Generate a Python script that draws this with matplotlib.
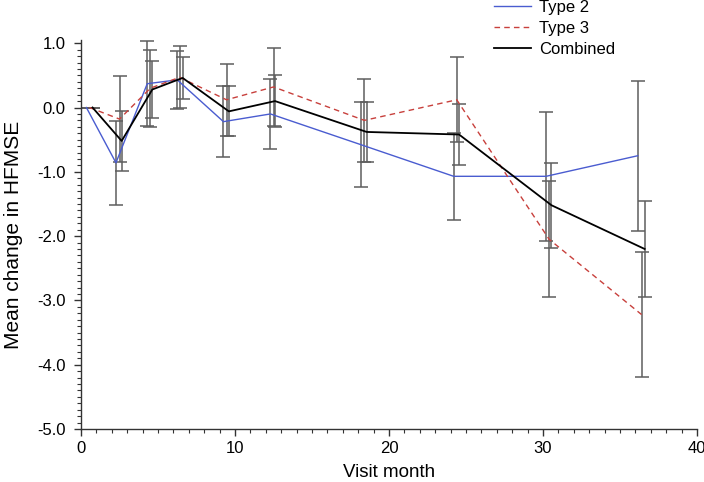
import matplotlib
matplotlib.use("Agg")
import matplotlib.pyplot as plt
from matplotlib.ticker import MultipleLocator

plt.rcParams['font.family'] = ['Liberation Sans', 'DejaVu Sans']

# Type 2
x_t2 = [0.35, 2.27, 4.3, 6.25, 9.25, 12.3, 18.2, 24.2, 30.2, 36.15]
y_t2 = [0.0, -0.86, 0.37, 0.43, -0.22, -0.10, -0.58, -1.07, -1.07, -0.75]
e_t2 = [0.0, 0.65, 0.66, 0.45, 0.55, 0.55, 0.66, 0.68, 1.00, 1.17]

# Type 3
x_t3 = [0.55, 2.5, 4.5, 6.4, 9.45, 12.5, 18.4, 24.4, 30.4, 36.4]
y_t3 = [0.0, -0.18, 0.30, 0.47, 0.12, 0.32, -0.20, 0.12, -2.05, -3.22]
e_t3 = [0.0, 0.67, 0.60, 0.48, 0.56, 0.60, 0.65, 0.66, 0.90, 0.97]

# Combined
x_cb = [0.75, 2.64, 4.63, 6.6, 9.6, 12.6, 18.55, 24.55, 30.55, 36.6]
y_cb = [0.0, -0.52, 0.28, 0.46, -0.06, 0.10, -0.38, -0.42, -1.52, -2.20]
e_cb = [0.0, 0.46, 0.45, 0.32, 0.39, 0.40, 0.47, 0.48, 0.66, 0.75]

y_ticks = [1.0, 0.0, -1.0, -2.0, -3.0, -4.0, -5.0]
y_tick_labels = ['1.0', '0.0', '-1.0', '-2.0', '-3.0', '-4.0', '-5.0']

fig = plt.figure(figsize=(7.04, 4.82), dpi=100)
ax = fig.add_axes([81/704, 53/482, (697-81)/704, (442-53)/482])

bar_kw = dict(fmt='none', ecolor='#5e5e5e', elinewidth=1.1, capsize=5, capthick=1.1, zorder=1)
for xs, ys, es in [(x_t2, y_t2, e_t2), (x_t3, y_t3, e_t3), (x_cb, y_cb, e_cb)]:
    ax.errorbar(xs, ys, yerr=es, **bar_kw)

ax.plot(x_t2, y_t2, color='#4a5cd0', lw=1.0, label='Type 2', zorder=3)
ax.plot(x_t3, y_t3, color='#c8403c', lw=1.0, ls=(0, (4, 3)), label='Type 3', zorder=3)
ax.plot(x_cb, y_cb, color='black', lw=1.3, label='Combined', zorder=4)

ax.set_xlim(0, 40)
ax.set_ylim(-5.0, 1.05)
ax.xaxis.set_major_locator(MultipleLocator(10))
ax.xaxis.set_minor_locator(MultipleLocator(1))
ax.yaxis.set_minor_locator(MultipleLocator(0.1))
ax.set_yticks(y_ticks)
ax.set_yticklabels(y_tick_labels)

for s in ['top', 'right']:
    ax.spines[s].set_visible(False)
for s in ['left', 'bottom']:
    ax.spines[s].set_color('#333333')
    ax.spines[s].set_linewidth(1.0)

ax.tick_params(which='major', direction='out', length=5, width=1, colors='#333333',
               labelsize=12, labelcolor='black')
ax.tick_params(axis='y', which='major', pad=6)
ax.tick_params(which='minor', direction='out', length=3, width=0.8, colors='#333333')

ax.set_xlabel('Visit month', fontsize=13.5, labelpad=6)
ax.set_ylabel('Mean change in HFMSE', fontsize=15, labelpad=10)

fig.legend(loc='upper left', bbox_to_anchor=(494/704, 1.0), frameon=False, fontsize=12,
           borderpad=0, handlelength=2.2, handletextpad=0.5, labelspacing=0.35,
           borderaxespad=0)

fig.savefig('out.png', dpi=100)
